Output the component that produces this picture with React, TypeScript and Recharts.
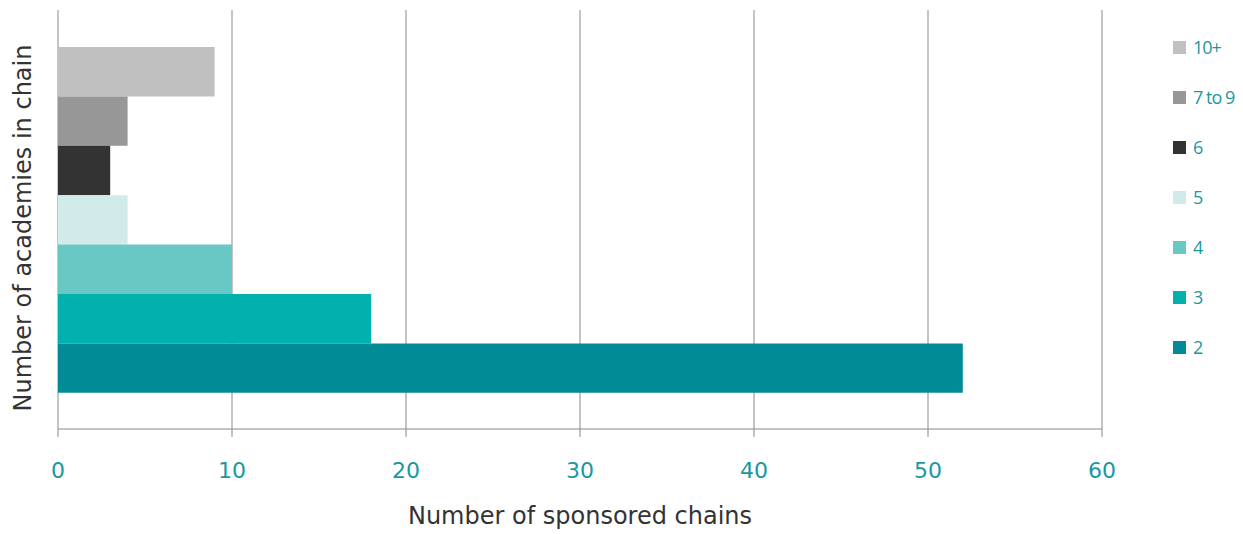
import React from 'react';
import { BarChart, Bar, XAxis, YAxis, CartesianGrid, Legend } from 'recharts';

const seriesNames = ['10+', '7 to 9', '6', '5', '4', '3', '2'];
const seriesValues = [9, 4, 3, 4, 10, 18, 52];
const seriesColors = ['#c0c0c0', '#979797', '#333333', '#d0ebea', '#67c8c4', '#00b1ae', '#008b96'];
const xTicks = [0, 10, 20, 30, 40, 50, 60];

const keys = seriesNames.map((_, i) => `s${i}`);
const row: Record<string, any> = { name: 'chains' };
keys.forEach((k, i) => { row[k] = seriesValues[i]; });
const data = [row];

const TEAL = '#1a98a0';
const FONT = '"DejaVu Sans", sans-serif';

const LegendContent = () => (
  <div style={{ fontFamily: '"Liberation Sans Narrow", "Open Sans", sans-serif' }}>
    {seriesNames.map((n, i) => (
      <div key={n} style={{ display: 'flex', alignItems: 'center', height: 50 }}>
        <span style={{ display: 'inline-block', width: 13, height: 13, background: seriesColors[i], marginRight: 7 }} />
        <span style={{ color: TEAL, fontSize: 18, letterSpacing: -1 }}>{n}</span>
      </div>
    ))}
  </div>
);

const YLabel = () => {
  const cx = 23;
  const cy = 228;
  return (
    <text
      x={cx}
      y={cy}
      transform={`rotate(-90, ${cx}, ${cy})`}
      textAnchor="middle"
      dominantBaseline="central"
      fill="#333"
      fontSize={24}
      fontFamily={FONT}
    >
      Number of academies in chain
    </text>
  );
};

export default function App() {
  return (
    <div style={{ position: 'absolute', left: 0, top: 0 }}>
      <BarChart
        width={1243}
        height={534}
        data={data}
        layout="vertical"
        margin={{ top: 10, right: 71, left: 0, bottom: 0 }}
        barGap={0}
        barCategoryGap={36}
        barSize={49.4}
      >
        <CartesianGrid horizontal={false} vertical={true} stroke="#888" strokeWidth={1} />
        <XAxis
          type="number"
          domain={[0, 60]}
          ticks={xTicks}
          interval={0}
          height={105}
          stroke="#888"
          tickSize={8}
          tickMargin={25}
          tick={{ fill: TEAL, fontSize: 22, fontFamily: FONT }}
          label={{
            value: 'Number of sponsored chains',
            position: 'insideBottom',
            offset: 10,
            fill: '#333',
            fontSize: 24,
            fontFamily: FONT,
          }}
        />
        <YAxis
          type="category"
          dataKey="name"
          width={58}
          tick={false}
          axisLine={false}
          tickLine={false}
          label={{ content: YLabel }}
        />
        <Legend
          layout="vertical"
          align="right"
          verticalAlign="top"
          content={LegendContent}
          wrapperStyle={{ left: 1173, top: 22, width: 70 }}
        />
        {keys.map((k, i) => (
          <Bar key={k} dataKey={k} name={seriesNames[i]} fill={seriesColors[i]} isAnimationActive={false} />
        ))}
      </BarChart>
    </div>
  );
}
